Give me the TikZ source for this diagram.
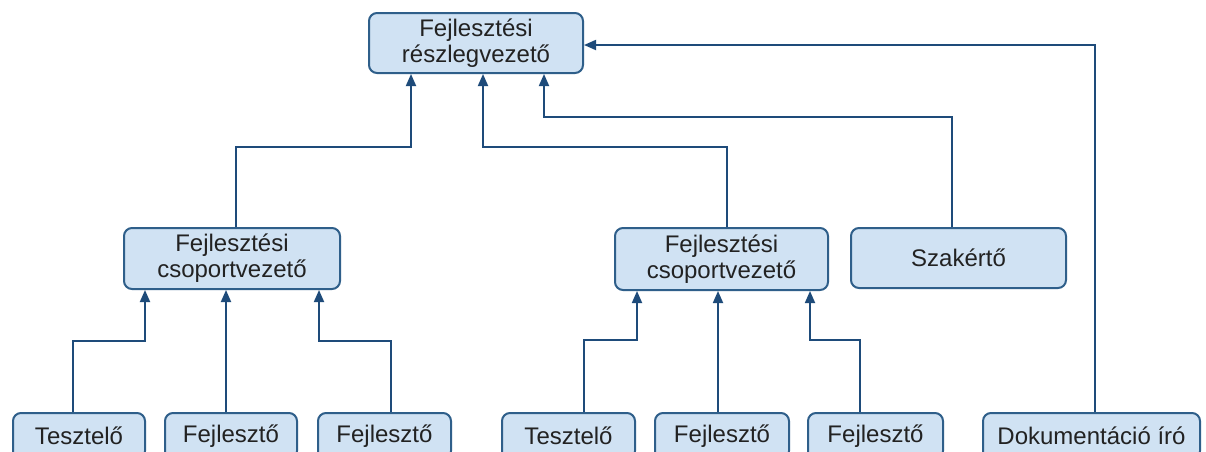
\documentclass[tikz,border=0pt]{standalone}
\usepackage{fontspec}
\setmainfont{Liberation Sans}
\usetikzlibrary{arrows.meta}
\definecolor{boxfill}{HTML}{D0E2F3}
\definecolor{boxdraw}{HTML}{2F5F8A}
\definecolor{linecol}{HTML}{1E4B7A}
\definecolor{txt}{HTML}{222222}
\tikzset{
  box/.style={draw=boxdraw, line width=2pt, fill=boxfill, rounded corners=8pt,
    align=center, text=txt, font=\fontsize{24}{26}\selectfont, inner sep=0pt},
  conn/.style={draw=linecol, line width=1.8pt, -{Triangle[width=10pt,length=12pt]}},
}
\begin{document}
\begin{tikzpicture}[x=1pt,y=-1pt]
\useasboundingbox (0,0) rectangle (1206,451);
\clip (0,0) rectangle (1206,451);
\fill[white] (0,0) rectangle (1206,451);
% nodes
\node[box, minimum width=214pt, minimum height=60pt] (T) at (476,43) {Fejlesztési\\részlegvezető};
\node[box, minimum width=216pt, minimum height=61pt] (ML) at (232,258.5) {Fejlesztési\\csoportvezető};
\node[box, minimum width=213pt, minimum height=62pt] (MR) at (721.5,259) {Fejlesztési\\csoportvezető};
\node[box, minimum width=215pt, minimum height=60pt] (S) at (958.5,258) {Szakértő};
\node[box, minimum width=132pt, minimum height=46pt] (B1) at (79,436) {Tesztelő};
\node[box, minimum width=132pt, minimum height=46pt] (B2) at (231,436) {Fejlesztő};
\node[box, minimum width=133pt, minimum height=46pt] (B3) at (384.5,436) {Fejlesztő};
\node[box, minimum width=133pt, minimum height=46pt] (B4) at (568.5,436) {Tesztelő};
\node[box, minimum width=134pt, minimum height=46pt] (B5) at (722,436) {Fejlesztő};
\node[box, minimum width=135pt, minimum height=46pt] (B6) at (875.5,436) {Fejlesztő};
\node[box, minimum width=217pt, minimum height=46pt] (B7) at (1091.5,436) {Dokumentáció író};
% connectors, left group
\draw[conn] (B1.north -| 73,0) |- (145,341) -- (ML.south -| 145,0);
\draw[conn] (B2.north -| 226,0) -- (ML.south -| 226,0);
\draw[conn] (B3.north -| 391,0) |- (319,341) -- (ML.south -| 319,0);
% right group
\draw[conn] (B4.north -| 584,0) |- (637,340) -- (MR.south -| 637,0);
\draw[conn] (B5.north -| 718,0) -- (MR.south -| 718,0);
\draw[conn] (B6.north -| 860,0) |- (810,340) -- (MR.south -| 810,0);
% to top
\draw[conn] (ML.north -| 236,0) |- (411,147) -- (T.south -| 411,0);
\draw[conn] (MR.north -| 727,0) |- (483,147) -- (T.south -| 483,0);
\draw[conn] (S.north -| 952,0) |- (544,117) -- (T.south -| 544,0);
\draw[conn] (B7.north -| 1095,0) |- (T.east |- 0,45);
\end{tikzpicture}
\end{document}
